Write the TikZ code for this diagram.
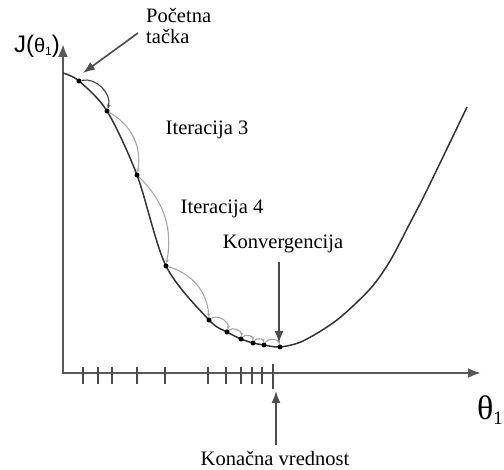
\documentclass[tikz,border=0pt]{standalone}
\usepackage{fontspec}
\setmainfont{Liberation Serif}
\newfontfamily\axfont{Liberation Sans}
\usetikzlibrary{arrows.meta}
\begin{document}
\begin{tikzpicture}[x=1pt,y=-1pt,
  axis/.style={draw=black!65,line width=2.2pt,-{Latex[length=13pt,width=10pt]}},
  curve/.style={draw=black!80,line width=1.5pt},
  iter/.style={draw=black!35,line width=1.1pt,-{Stealth[length=4pt,width=3.5pt]},bend left=#1},
  iter/.default=45,
  pointer/.style={draw=black!70,line width=1.6pt,-{Latex[length=12pt,width=9pt]}},
  tick/.style={draw=black!70,line width=1.3pt},
  lbl/.style={font=\fontsize{20.5}{21.5}\selectfont,inner sep=0pt},
  dot/.style={circle,fill=black,inner sep=0pt,minimum size=5pt}]
\useasboundingbox (0,0) rectangle (504,470);
% axes
\coordinate (O) at (63,374);
\coordinate (Ytop) at (63,44);
\coordinate (Xend) at (481,373);
\draw[axis] (O) -- (Ytop);
\draw[axis] (62,373) -- (Xend);
% ticks
\foreach \t in {83,98,112,137,165,208,226,241,252,262}
  \draw[tick] (\t,367) -- (\t,384);
\draw[tick] (273,364) -- (273,389);
% curve
\draw[curve] plot[smooth,tension=0.5] coordinates {(63,73) (79,81) (107,111) (137,175) (166,266) (209,320) (227,332) (241,339) (253,343) (264,345) (280,347) (303,341) (337,320) (370,289) (390,261) (410,223) (427,190) (467,107)};
% dots
\node[dot] (d1) at (79,81) {};
\node[dot] (d2) at (107,111) {};
\node[dot] (d3) at (137,175) {};
\node[dot] (d4) at (166,266) {};
\node[dot] (d5) at (209,320) {};
\node[dot] (d6) at (227,332) {};
\node[dot] (d7) at (241,339) {};
\node[dot] (d8) at (253,343) {};
\node[dot] (d9) at (264,345) {};
\node[dot] (d10) at (280,347) {};
% iteration arcs
\draw[iter=60,draw=black!75] (d1) to (d2);
\draw[iter=35] (d2) to (d3);
\draw[iter=28] (d3) to (d4);
\draw[iter=35] (d4) to (d5);
\draw[iter=70] (d5) to (d6);
\draw[iter=70] (d6) to (d7);
\draw[iter=70] (d7) to (d8);
\draw[iter=70] (d8) to (d9);
\draw[iter=70] (d9) to (d10);
% labels
\node[anchor=center,inner sep=0pt] (jl) at (37,46) {\axfont\fontsize{24}{26}\selectfont J(\fontsize{20}{22}\selectfont θ\raisebox{-0.3ex}{\fontsize{12}{13}\selectfont 1}\fontsize{24}{26}\selectfont)};
\node[anchor=west,inner sep=0pt] (tl) at (477,410) {\fontsize{34}{35}\selectfont θ\raisebox{-0.3ex}{\fontsize{19}{19}\selectfont 1}};
\node[lbl,align=left,anchor=north west] (start) at (146,8) {Početna\\tačka};
\node[lbl] (it3) at (207,130) {Iteracija 3};
\node[lbl] (it4) at (222,209) {Iteracija 4};
\node[lbl] (konv) at (283,244) {Konvergencija};
\node[lbl] (kon) at (275,458) {Konačna vrednost};
% pointers
\coordinate (pstart) at (138,33);
\draw[pointer] (pstart) -- (83,73);
\coordinate (pk1) at (279,262);
\coordinate (pk2) at (279,343);
\draw[pointer] (pk1) -- (pk2);
\coordinate (pv1) at (276,445);
\coordinate (pv2) at (276,391);
\draw[pointer] (pv1) -- (pv2);
\end{tikzpicture}
\end{document}
